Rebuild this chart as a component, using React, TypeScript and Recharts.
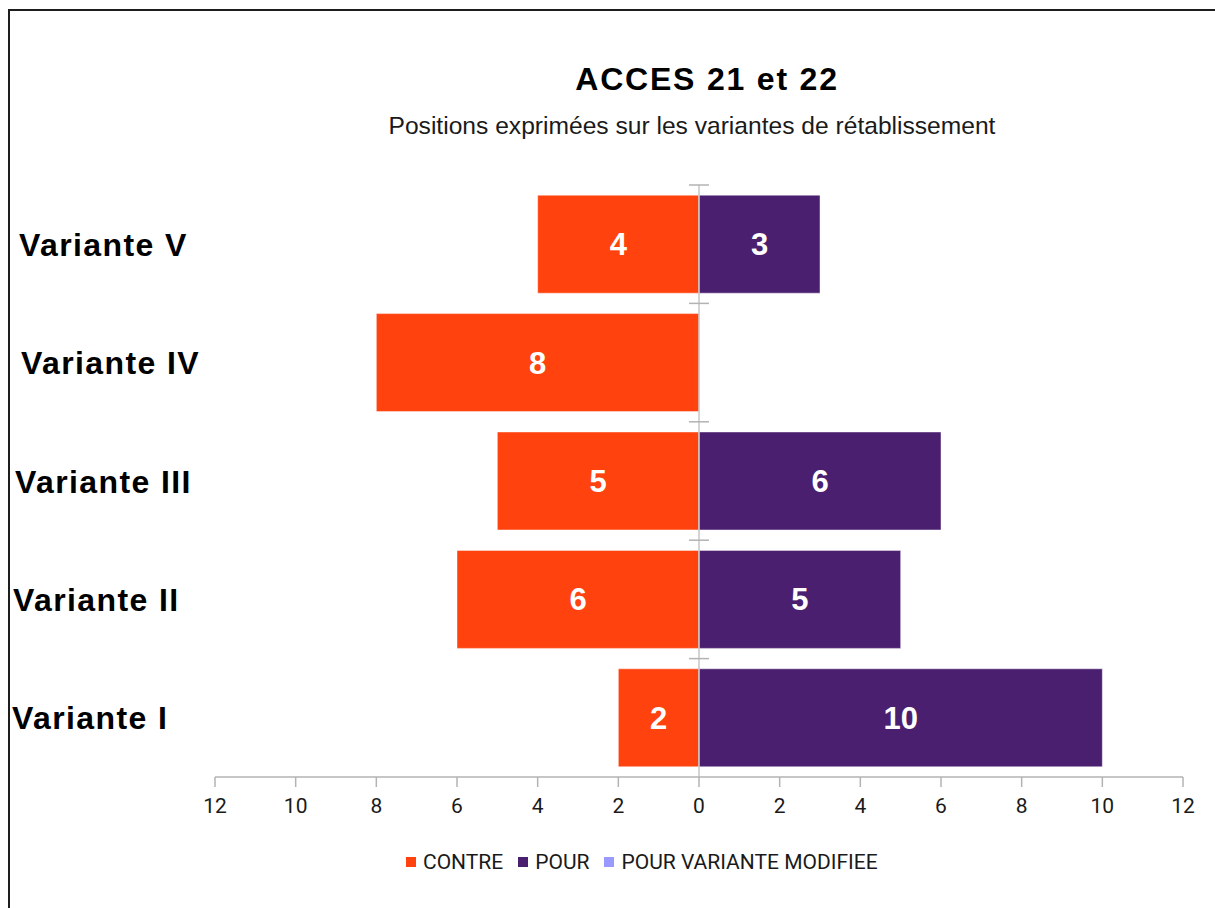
import { Bar, BarChart, LabelList, ReferenceLine, XAxis, YAxis } from "recharts";

const categories = ["Variante V", "Variante IV", "Variante III", "Variante II", "Variante I"];
const contre = [4, 8, 5, 6, 2];
const pour = [3, 0, 6, 5, 10];
const pourModifiee = [0, 0, 0, 0, 0];
const xTicks = [-12, -10, -8, -6, -4, -2, 0, 2, 4, 6, 8, 10, 12];

const series = [
  { key: "contre", name: "CONTRE", color: "#ff420e" },
  { key: "pour", name: "POUR", color: "#4b1f6f" },
  { key: "modifiee", name: "POUR VARIANTE MODIFIEE", color: "#9999ff" }
];

// contre goes to the left of zero
const data = categories.map((name, i) => ({
  name,
  contre: -contre[i],
  pour: pour[i],
  modifiee: pourModifiee[i]
}));

const labelFont = "'Liberation Sans', Arial, sans-serif";
const smallFont = "Roboto, 'Liberation Sans', sans-serif";
const labelShift = [19, 21, 15, 13, 12];

function CategoryTick(props: any) {
  const { y, index, payload } = props;
  return (
    <text
      x={labelShift[index] ?? 14}
      y={y}
      dy="0.36em"
      textAnchor="start"
      fontFamily={labelFont}
      fontWeight="bold"
      fontSize={32}
      fill="#000"
      style={{ letterSpacing: 1.4 }}
    >
      {payload.value}
    </text>
  );
}

function ZeroAxis(props: any) {
  const { x1, y1, y2 } = props;
  const top = Math.min(y1, y2);
  const bottom = Math.max(y1, y2);
  const step = (bottom - top) / categories.length;
  return (
    <g>
      <line x1={x1} x2={x1} y1={top} y2={bottom} stroke="#c6c6c6" strokeWidth={1.5} />
      {categories.map((_, i) => (
        <line
          key={i}
          x1={x1 - 10}
          x2={x1 + 10}
          y1={top + i * step}
          y2={top + i * step}
          stroke="#b3b3b3"
          strokeWidth={1.5}
        />
      ))}
    </g>
  );
}

const fmt = (v: any) => (v ? Math.abs(Number(v)) : "");

export default function App() {
  return (
    <div style={{ position: "absolute", left: 0, top: 0, width: 1215, height: 908, overflow: "hidden", background: "#fff" }}>
      <div
        style={{
          position: "absolute",
          left: 8,
          top: 9,
          width: 1300,
          height: 1000,
          borderTop: "2px solid #1e1e1e",
          borderLeft: "2px solid #1e1e1e"
        }}
      />
      <div
        style={{
          position: "absolute",
          left: 207,
          top: 63,
          width: 1000,
          textAlign: "center",
          fontFamily: labelFont,
          fontWeight: "bold",
          fontSize: 32,
          lineHeight: 1,
          letterSpacing: 1.8,
          color: "#000"
        }}
      >
        ACCES 21 et 22
      </div>
      <div
        style={{
          position: "absolute",
          left: 192,
          top: 114,
          width: 1000,
          textAlign: "center",
          fontFamily: labelFont,
          fontSize: 24.6,
          lineHeight: 1,
          color: "#1a1a1a"
        }}
      >
        Positions exprimées sur les variantes de rétablissement
      </div>

      <div style={{ position: "absolute", left: 0, top: 0 }}>
        <BarChart
          width={1215}
          height={908}
          data={data}
          layout="vertical"
          stackOffset="sign"
          barCategoryGap="8.6%"
          margin={{ top: 185, right: 32, bottom: 101, left: 0 }}
        >
          <XAxis
            type="number"
            domain={[-12, 12]}
            ticks={xTicks}
            tickFormatter={(v: number) => String(Math.abs(v))}
            axisLine={{ stroke: "#b3b3b3", strokeWidth: 1.5 }}
            tickLine={{ stroke: "#b3b3b3", strokeWidth: 1.5 }}
            tickSize={10}
            tickMargin={11}
            height={30}
            tick={{ fontFamily: smallFont, fontSize: 21, fill: "#1a1a1a" }}
          />
          <YAxis
            type="category"
            dataKey="name"
            width={215}
            axisLine={false}
            tickLine={false}
            tick={<CategoryTick />}
          />
          {series.map((s) => (
            <Bar
              key={s.key}
              dataKey={s.key}
              name={s.name}
              stackId="a"
              fill={s.color}
              stroke="rgba(255,255,255,0.45)"
              strokeWidth={1}
              isAnimationActive={false}
            >
              <LabelList
                dataKey={s.key}
                position="center"
                formatter={fmt}
                fill="#fff"
                fontSize={31}
                fontWeight="bold"
                fontFamily={labelFont}
              />
            </Bar>
          ))}
          <ReferenceLine x={0} shape={<ZeroAxis />} />
        </BarChart>
      </div>

      <div
        style={{
          position: "absolute",
          left: 406,
          top: 850,
          height: 24,
          display: "flex",
          alignItems: "center",
          fontFamily: smallFont,
          fontSize: 21,
          color: "#1a1a1a",
          whiteSpace: "nowrap"
        }}
      >
        {series.map((s) => (
          <div key={s.key} style={{ display: "flex", alignItems: "center", marginRight: 15 }}>
            <span style={{ width: 10, height: 10, background: s.color, marginRight: 7, display: "inline-block" }} />
            <span>{s.name}</span>
          </div>
        ))}
      </div>
    </div>
  );
}
